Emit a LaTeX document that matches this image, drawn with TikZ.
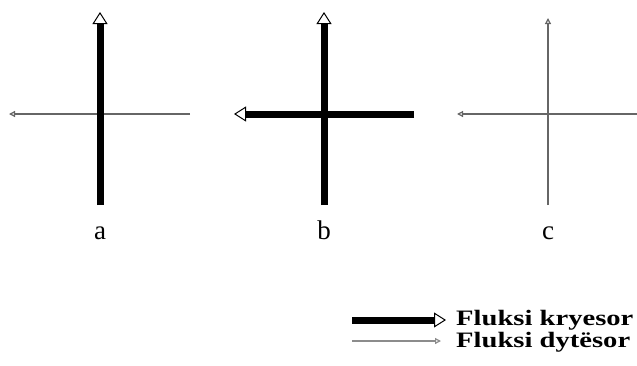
\documentclass[tikz,border=0pt]{standalone}
\usepackage{fontspec}
\setmainfont{Liberation Serif}
\usetikzlibrary{arrows.meta}
\tikzset{
  major/.style={line width=7pt, black, -{Triangle[open, length=12pt, width=15pt, line width=1pt 0]}},
  minor/.style={line width=1.3pt, black!60, -{Triangle[open, length=6pt, width=6pt, line width=1.2pt 0]}},
  lbl/.style={font=\fontsize{27}{27}\selectfont, inner sep=0pt, anchor=base},
  leg/.style={font=\fontsize{22}{22}\selectfont\bfseries, inner sep=0pt, anchor=west}
}
\begin{document}
\begin{tikzpicture}[x=1pt,y=-1pt]
\useasboundingbox (0,0) rectangle (637,365);
% panel a
\coordinate (aB) at (100,205); \coordinate (aT) at (100,12);
\coordinate (aR) at (190,114); \coordinate (aL) at (9,114);
\draw[minor] (aR) -- (aL);
\draw[major] (aB) -- (aT);
\node[lbl] (la) at (100,239) {a};
% panel b
\coordinate (bB) at (324,205); \coordinate (bT) at (324,12);
\coordinate (bR) at (414,114); \coordinate (bL) at (234,114);
\draw[major] (bR) -- (bL);
\draw[major] (bB) -- (bT);
\node[lbl] (lb) at (324,239) {b};
% panel c
\coordinate (cB) at (548,205); \coordinate (cT) at (548,18);
\coordinate (cR) at (637,114); \coordinate (cL) at (457,114);
\draw[minor] (cR) -- (cL);
\draw[minor] (cB) -- (cT);
\node[lbl] (lc) at (548,239) {c};
% legend
\coordinate (k1) at (352,320); \coordinate (k2) at (446,320);
\draw[major] (k1) -- (k2);
\node[leg] (tk) at (456,320) {\scalebox{1.3}[1]{Fluksi kryesor}};
\coordinate (d1) at (352,341); \coordinate (d2) at (441,341);
\draw[minor, black!45] (d1) -- (d2);
\node[leg] (td) at (456,342) {\scalebox{1.3}[1]{Fluksi dytësor}};
\end{tikzpicture}
\end{document}
